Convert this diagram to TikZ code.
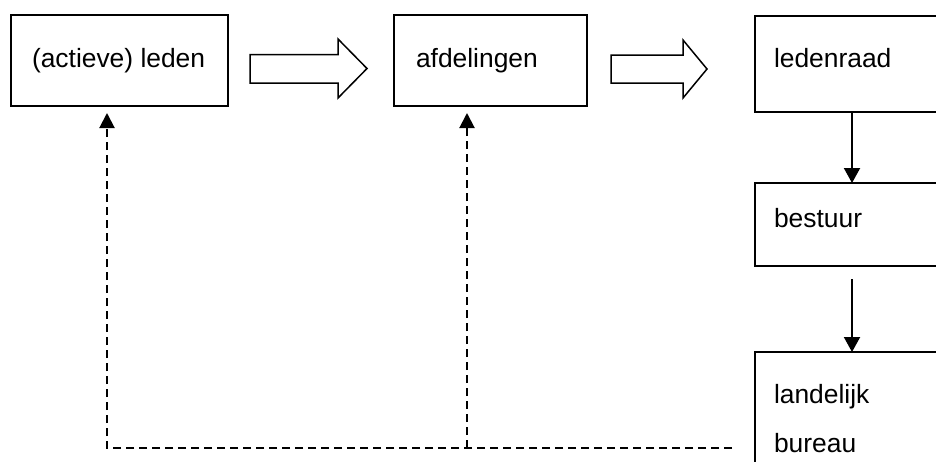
\documentclass[tikz,border=0pt]{standalone}
\usepackage{fontspec}
\setmainfont{Liberation Sans}
\usetikzlibrary{arrows.meta}
\begin{document}
\begin{tikzpicture}[x=1pt,y=-1pt,
  box/.style={draw,line width=2pt,rectangle,inner sep=0pt,outer sep=0pt},
  lbl/.style={inner sep=0pt,outer sep=0pt,anchor=base west,font=\fontsize{26.4}{30}\selectfont},
  blockarrow/.style={draw,line width=1.5pt,line join=miter,fill=white},
  solidarrow/.style={line width=2pt,-{Triangle[length=15pt,width=16pt]}},
  dashline/.style={line width=2pt,dash pattern=on 8pt off 5pt},
  dasharrow/.style={dashline,-{Triangle[length=15pt,width=15pt]}}]
\useasboundingbox (0,0) rectangle (936,461);
\clip (0,0) rectangle (936,461);
% boxes
\node[box,minimum width=217pt,minimum height=91pt] (leden) at (119.5,60.5) {};
\node[box,minimum width=193pt,minimum height=91pt] (afd) at (490.5,60.5) {};
\node[box,minimum width=194pt,minimum height=96pt] (raad) at (852,64) {};
\node[box,minimum width=194pt,minimum height=83pt] (bestuur) at (852,224.5) {};
\node[box,minimum width=194pt,minimum height=128pt] (bureau) at (852,416) {};
% texts
\node[lbl] (tleden) at (32,67) {(actieve) leden};
\node[lbl] (tafd) at (416,67) {afdelingen};
\node[lbl] (traad) at (774,67) {ledenraad};
\node[lbl] (tbestuur) at (774,227) {bestuur};
\node[lbl] (tland) at (774,403) {landelijk};
\node[lbl] (tbureau) at (774,452) {bureau};
% block arrows
\draw[blockarrow] (250,54.5) -- (338,54.5) -- (338,39) -- (367,68.5) -- (338,98) -- (338,83) -- (250,83) -- cycle;
\draw[blockarrow] (611,55) -- (683,55) -- (683,40) -- (707,69) -- (683,98) -- (683,83) -- (611,83) -- cycle;
% vertical arrows
\draw[solidarrow] (raad) -- (bestuur);
\draw[solidarrow,shorten <=13pt] (bestuur) -- (bureau);
% dashed feedback
\coordinate (c0) at (732,448);
\coordinate (c1) at (107,448);
\coordinate (c2) at (467,448);
\draw[dasharrow,shorten >=7pt] (c0) -- (c1) -- (c1 |- leden.south);
\draw[dasharrow,shorten >=7pt] (c2) -- (c2 |- afd.south);
\end{tikzpicture}
\end{document}
